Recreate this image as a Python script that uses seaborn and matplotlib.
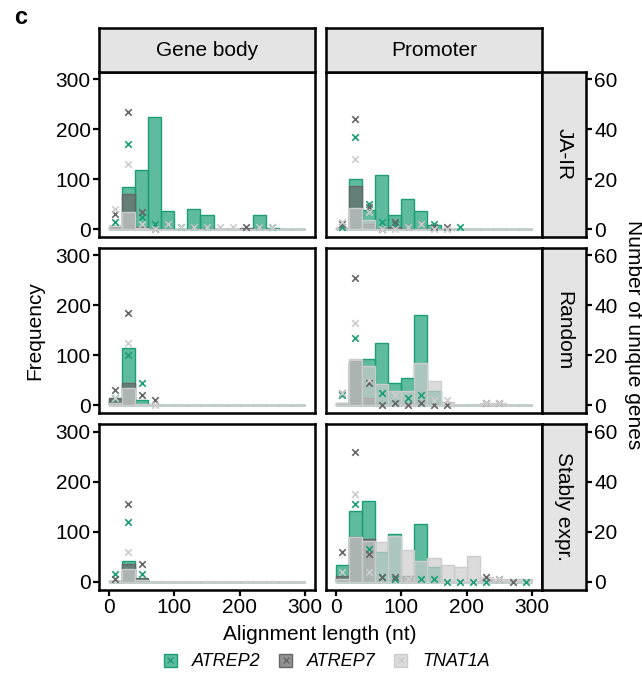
import numpy as np
import pandas as pd
import matplotlib
matplotlib.use("Agg")
import matplotlib.pyplot as plt
import seaborn as sns
from matplotlib.patches import Patch
from matplotlib.lines import Line2D
from matplotlib.legend_handler import HandlerTuple
from matplotlib.colors import to_rgba

sns.set_theme(style="white")
plt.rcParams['font.family'] = ['Liberation Sans', 'DejaVu Sans']
plt.rcParams['text.color'] = 'black'
plt.rcParams['axes.labelcolor'] = 'black'
plt.rcParams['xtick.color'] = 'black'
plt.rcParams['ytick.color'] = 'black'

# ---------------- data ----------------
BIN_EDGES = list(range(0, 301, 20))
BIN_CENTERS = list(range(10, 300, 20))
REPEATS = ["ATREP2", "ATREP7", "TNAT1A"]
REGIONS = ["Gene body", "Promoter"]
GENE_SETS = ["JA-IR", "Random", "Stably expr."]
X_TICKS = [0, 100, 200, 300]
Y_TICKS = [0, 100, 200, 300]
Y2_TICKS = [0, 20, 40, 60]
N = np.nan

# Frequency (histogram counts per 20-nt bin)
freq_jair_gene = {
    "ATREP2": [2, 85, 118, 224, 37, 0, 40, 28, 0, 0, 0, 28, 2, 0, 0],
    "ATREP7": [5, 70, 5, 0, 0, 0, 0, 0, 0, 0, 2, 0, 0, 0, 0],
    "TNAT1A": [8, 34, 3, 0, 0, 0, 0, 0, 0, 0, 0, 0, 0, 0, 0],
}
freq_jair_prom = {
    "ATREP2": [2, 100, 39, 109, 28, 61, 36, 8, 0, 0, 0, 0, 0, 0, 0],
    "ATREP7": [3, 87, 10, 0, 5, 0, 0, 0, 0, 0, 0, 0, 0, 0, 0],
    "TNAT1A": [5, 42, 18, 0, 0, 0, 0, 0, 0, 0, 0, 0, 0, 0, 0],
}
freq_rand_gene = {
    "ATREP2": [12, 115, 11, 0, 0, 0, 0, 0, 0, 0, 0, 0, 0, 0, 0],
    "ATREP7": [14, 45, 0, 1, 0, 0, 0, 0, 0, 0, 0, 0, 0, 0, 0],
    "TNAT1A": [5, 35, 2, 1, 0, 0, 0, 0, 0, 0, 0, 0, 0, 0, 0],
}
freq_rand_prom = {
    "ATREP2": [3, 85, 93, 125, 45, 55, 180, 28, 0, 0, 0, 0, 0, 0, 0],
    "ATREP7": [5, 88, 15, 0, 0, 0, 0, 0, 0, 0, 0, 0, 0, 0, 0],
    "TNAT1A": [5, 92, 79, 43, 29, 28, 85, 48, 6, 0, 0, 4, 4, 0, 0],
}
freq_stab_gene = {
    "ATREP2": [2, 42, 5, 0, 0, 0, 0, 0, 0, 0, 0, 0, 0, 0, 0],
    "ATREP7": [1, 36, 7, 0, 0, 0, 0, 0, 0, 0, 0, 0, 0, 0, 0],
    "TNAT1A": [2, 25, 3, 0, 0, 0, 0, 0, 0, 0, 0, 0, 0, 0, 0],
}
freq_stab_prom = {
    "ATREP2": [34, 141, 161, 59, 96, 0, 116, 30, 0, 0, 0, 0, 0, 0, 0],
    "ATREP7": [12, 89, 86, 0, 0, 12, 0, 0, 0, 0, 0, 4, 0, 0, 0],
    "TNAT1A": [5, 89, 81, 80, 92, 63, 42, 47, 33, 29, 52, 10, 5, 5, 5],
}

# Number of unique genes per bin (secondary axis)
genes_jair_gene = {
    "ATREP2": [3, 34, 5, 2, 2, 1, 1, 1, N, N, N, 1, 1, N, N],
    "ATREP7": [6, 47, 7, 0, N, N, N, N, N, N, 1, N, N, N, N],
    "TNAT1A": [8, 26, 2, 0, 2, 1, 1, 1, 1, 1, N, 1, 1, N, N],
}
genes_jair_prom = {
    "ATREP2": [1, 37, 10, 3, 2, N, N, 2, N, 1, N, N, N, N, N],
    "ATREP7": [2, 44, 9, 0, 3, 1, 2, 1, 1, N, N, N, N, N, N],
    "TNAT1A": [3, 28, 7, 0, 0, 1, 2, 0, 0, N, N, N, N, N, N],
}
genes_rand_gene = {
    "ATREP2": [3, 20, 9, N, N, N, N, N, N, N, N, N, N, N, N],
    "ATREP7": [6, 37, 4, 2, N, N, N, N, N, N, N, N, N, N, N],
    "TNAT1A": [3, 25, N, 0, N, N, N, N, N, N, N, N, N, N, N],
}
genes_rand_prom = {
    "ATREP2": [4, 27, 10, 5, N, 3, 4, N, N, N, N, N, N, N, N],
    "ATREP7": [5, 51, 9, 0, 1, 0, 1, 0, 0, N, N, 1, 1, N, N],
    "TNAT1A": [5, 33, 10, N, 4, N, N, 2, 2, N, N, 1, 1, N, N],
}
genes_stab_gene = {
    "ATREP2": [3, 24, 3, N, N, N, N, N, N, N, N, N, N, N, N],
    "ATREP7": [1, 31, 7, N, N, N, N, N, N, N, N, N, N, N, N],
    "TNAT1A": [N, 12, N, N, N, N, N, N, N, N, N, N, N, N, N],
}
genes_stab_prom = {
    "ATREP2": [4, 31, 13, 2, 1, N, 1, 1, 0, 0, 0, 0, N, N, 0],
    "ATREP7": [12, 52, 11, 2, 2, N, N, N, N, N, N, 2, 1, 0, N],
    "TNAT1A": [4, 35, 4, N, N, 1, N, N, N, N, N, N, 1, N, N],
}

# ---------------- assemble ----------------
PANELS = {
    ("JA-IR", "Gene body"): (freq_jair_gene, genes_jair_gene),
    ("JA-IR", "Promoter"): (freq_jair_prom, genes_jair_prom),
    ("Random", "Gene body"): (freq_rand_gene, genes_rand_gene),
    ("Random", "Promoter"): (freq_rand_prom, genes_rand_prom),
    ("Stably expr.", "Gene body"): (freq_stab_gene, genes_stab_gene),
    ("Stably expr.", "Promoter"): (freq_stab_prom, genes_stab_prom),
}
rows = []
for (gs, reg), (fq, gn) in PANELS.items():
    for rep in REPEATS:
        for c, f, g in zip(BIN_CENTERS, fq[rep], gn[rep]):
            rows.append(dict(gene_set=gs, region=reg, repeat=rep,
                             length=c, freq=f, genes=g))
df = pd.DataFrame(rows)

COLORS = {"ATREP2": "#1B9E77", "ATREP7": "#666666", "TNAT1A": "#CCCCCC"}
ALPHA = 0.7

# ---------------- layout ----------------
W, H = 642, 677
fig = plt.figure(figsize=(W / 100, H / 100), dpi=100)

def rect(x0, y0, x1, y1):
    return [x0 / W, 1 - y1 / H, (x1 - x0) / W, (y1 - y0) / H]

COL_X = [(99, 315), (326, 542)]
ROW_Y = [(72, 237), (248, 413), (424, 590)]
STRIP_TOP = (28, 72)
STRIP_RIGHT = (542, 586)
XLIM = (-15, 315)
YLIM = (-16, 315)
Y2LIM = (YLIM[0] / 5, YLIM[1] / 5)
FS = 15
SPINE_W = 1.8
STRIP_FC = "#E4E4E4"

for r, gs in enumerate(GENE_SETS):
    for c, reg in enumerate(REGIONS):
        x0, x1 = COL_X[c]
        y0, y1 = ROW_Y[r]
        ax = fig.add_axes(rect(x0, y0, x1, y1))
        sub = df[(df.gene_set == gs) & (df.region == reg)]
        for rep in REPEATS:
            d = sub[sub.repeat == rep]
            sns.histplot(data=d, x="length", weights="freq", bins=BIN_EDGES,
                         color=COLORS[rep], alpha=ALPHA, edgecolor=COLORS[rep],
                         linewidth=1.0, element="bars", fill=True, ax=ax)
        ax2 = ax.twinx()
        for rep in REPEATS:
            d = sub[(sub.repeat == rep)].dropna(subset=["genes"])
            sns.scatterplot(data=d, x="length", y="genes", color=COLORS[rep],
                            marker="x", s=22, linewidth=1.2, ax=ax2, legend=False)
        ax.set_xlim(*XLIM)
        ax.set_ylim(*YLIM)
        ax2.set_ylim(*Y2LIM)
        ax.set_xlabel("")
        ax.set_ylabel("")
        ax2.set_xlabel("")
        ax2.set_ylabel("")
        ax2.tick_params(right=False, labelright=False)
        for s in ax2.spines.values():
            s.set_visible(False)
        for s in ax.spines.values():
            s.set_visible(True)
            s.set_color("black")
            s.set_linewidth(SPINE_W)
        ax.set_xticks(X_TICKS)
        ax.set_yticks(Y_TICKS)
        ax.tick_params(axis="both", direction="out", length=4, width=1.6,
                       color="black", labelsize=FS, labelcolor="black", pad=2)
        if r < 2:
            ax.tick_params(axis="x", bottom=False, labelbottom=False)
        else:
            ax.tick_params(axis="x", bottom=True, labelbottom=True)
        if c == 1:
            ax.tick_params(axis="y", left=False, labelleft=False)
        else:
            ax.tick_params(axis="y", left=True, labelleft=True)
        ax.set_xticklabels([str(t) for t in X_TICKS])
        ax.set_yticklabels([str(t) for t in Y_TICKS])

        # top strips
        if r == 0:
            sa = fig.add_axes(rect(x0, STRIP_TOP[0], x1, STRIP_TOP[1]))
            sa.set_facecolor(STRIP_FC)
            sa.set_xticks([]); sa.set_yticks([])
            for s in sa.spines.values():
                s.set_color("black"); s.set_linewidth(SPINE_W)
            sa.text(0.5, 0.5, reg, ha="center", va="center", fontsize=FS,
                    transform=sa.transAxes, color="black")
        # right strips with secondary axis
        if c == 1:
            ra = fig.add_axes(rect(STRIP_RIGHT[0], y0, STRIP_RIGHT[1], y1))
            ra.set_facecolor(STRIP_FC)
            ra.set_xticks([])
            ra.set_ylim(*Y2LIM)
            ra.yaxis.tick_right()
            ra.set_yticks(Y2_TICKS)
            ra.set_yticklabels([str(t) for t in Y2_TICKS])
            ra.tick_params(axis="y", direction="out", length=4, width=1.6,
                           color="black", labelsize=FS, labelcolor="black",
                           pad=2, right=True, left=False)
            for s in ra.spines.values():
                s.set_color("black"); s.set_linewidth(SPINE_W)
            ra.text(0.5, 0.5, gs, ha="center", va="center", fontsize=FS,
                    rotation=-90, transform=ra.transAxes, color="black")

fig.text(14 / W, 1 - 18 / H, "c", fontsize=17, fontweight="bold",
         ha="left", va="center", color="black")
fig.text(35 / W, 1 - 331 / H, "Frequency", fontsize=FS, rotation=90,
         ha="center", va="center", color="black")
fig.text(634 / W, 1 - 335 / H, "Number of unique genes", fontsize=FS,
         rotation=-90, ha="center", va="center", color="black")
fig.text(320 / W, 1 - 634 / H, "Alignment length (nt)", fontsize=FS,
         ha="center", va="center", color="black")

handles = []
for rep in REPEATS:
    p = Patch(facecolor=to_rgba(COLORS[rep], ALPHA), edgecolor=COLORS[rep],
              linewidth=1.0)
    m = Line2D([], [], marker="x", color=COLORS[rep], linestyle="None",
               markersize=5, markeredgewidth=1.0)
    handles.append((p, m))
leg = fig.legend(handles=handles, labels=REPEATS, loc="center",
                 bbox_to_anchor=(327 / W, 1 - 662 / H), ncol=3, frameon=False,
                 prop={"size": 13, "style": "italic"},
                 handler_map={tuple: HandlerTuple(ndivide=1, pad=0)},
                 handlelength=0.72, handleheight=0.72, handletextpad=0.85,
                 columnspacing=1.0)
for t in leg.get_texts():
    t.set_color("black")

fig.savefig("out.png", dpi=100)
